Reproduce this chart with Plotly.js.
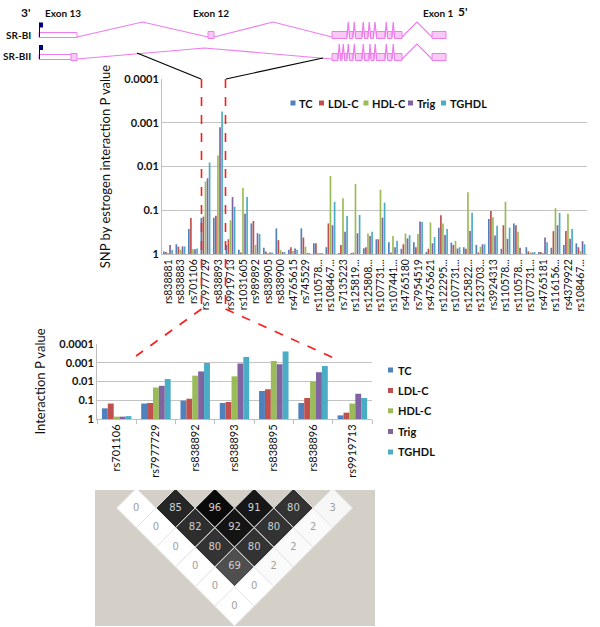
<!DOCTYPE html>
<html><head><meta charset="utf-8">
<script src="https://cdn.plot.ly/plotly-3.0.1.min.js"></script>
<style>html,body{margin:0;padding:0;background:#fff}#chart{width:600px;height:627px}</style>
</head><body><div id="chart"></div>
<script>
// ---------- data ----------
const traitNames = ['TC','LDL-C','HDL-C','Trig','TGHDL'];
const traitColors = ['#4F81BD','#C0504D','#9BBB59','#8064A2','#4BACC6'];

const mainSnps = ['rs838881','rs838883','rs701106','rs7977729','rs838893','rs9919713','rs1031605','rs989892','rs838905','rs838900','rs4765615','rs745529','rs110578...','rs108467...','rs7135223','rs125819...','rs125808...','rs107731...','rs107441...','rs4765180','rs7954519','rs4765621','rs122295...','rs107731...','rs125822...','rs123703...','rs3924313','rs110578...','rs110578...','rs107731...','rs4765181','rs116156...','rs4379922','rs108467...'];
const mainTC    = [0.88,0.6,0.27,0.15,0.148,0.62,0.8,0.2,0.72,0.26,0.8,0.26,0.57,0.7,0.95,0.95,0.74,0.46,0.54,0.76,0.54,0.9,0.25,0.55,0.7,0.62,0.158,0.76,0.2,0.7,0.9,0.72,0.62,0.57];
const mainLDL   = [0.9,0.68,0.15,0.14,0.133,0.46,0.93,0.176,0.88,0.48,0.7,0.42,0.57,0.2,0.62,0.93,0.7,0.46,0.92,0.6,0.7,0.76,0.13,0.62,0.76,0.92,0.104,0.22,0.22,0.87,0.9,0.3,0.3,0.7];
const mainHDL   = [0.95,0.8,0.78,0.022,0.0056,0.17,0.031,0.62,0.95,0.8,0.85,0.68,0.95,0.0164,0.053,0.025,0.34,0.034,0.39,0.34,0.35,0.19,0.2,0.5,0.039,0.68,0.145,0.064,0.31,0.92,0.95,0.09,0.12,0.85];
const mainTrig  = [0.62,0.67,0.78,0.0186,0.00126,0.05,0.12,0.336,0.92,0.9,0.75,0.95,0.96,0.22,0.31,0.336,0.39,0.148,0.7,0.44,0.18,0.57,0.37,0.75,0.3,0.6,0.38,0.45,0.72,0.92,0.42,0.22,0.45,0.51];
const mainTGHDL = [0.81,0.67,0.75,0.0081,0.00055,0.083,0.05,0.35,0.92,0.9,0.8,0.95,0.95,0.064,0.135,0.128,0.31,0.067,0.5,0.37,0.185,0.41,0.27,0.7,0.114,0.6,0.225,0.25,0.97,0.9,0.54,0.115,0.27,0.6];

const zoomSnps  = ['rs701106','rs7977729','rs838892','rs838893','rs838895','rs838896','rs9919713'];
const zoomTC    = [0.27,0.15,0.105,0.14,0.032,0.14,0.64];
const zoomLDL   = [0.15,0.14,0.083,0.124,0.026,0.076,0.46];
const zoomHDL   = [0.75,0.021,0.0049,0.0053,0.00081,0.0098,0.15];
const zoomTrig  = [0.75,0.017,0.0029,0.0011,0.0012,0.0032,0.045];
const zoomTGHDL = [0.7,0.0074,0.00103,0.00049,0.00025,0.0015,0.076];

// LD r2 (x100): row k = SNP pairs (i, i+k)
const ldRows = [[0,85,96,91,80,3],[0,82,92,80,2],[0,80,80,2],[0,69,2],[0,0],[0]];

const pTicks = [1,0.1,0.01,0.001,0.0001];
const pTickText = ['1','0.1','0.01','0.001','0.0001'];

// gene schematic (diagram units)
const exonsBI  = [[39,77],[208,214],[332,347],[349.5,353],[355.5,362],[364.5,368],[370.5,373.5],[376.5,385],[387.5,392],[394.5,402],[432,446]];
const exonsBII = [[39,72],[71,77],[332,338],[340.5,342],[344.5,347],[349.5,353],[355.5,362],[364.5,369],[371,374],[376.5,385],[387.5,392],[394.5,402],[432,446]];

// ---------- helpers ----------
const W = 600, H = 627;
const px = v => v / W, py = v => 1 - v / H;
const mainVals = [mainTC, mainLDL, mainHDL, mainTrig, mainTGHDL];
const zoomVals = [zoomTC, zoomLDL, zoomHDL, zoomTrig, zoomTGHDL];
const mainIdx = mainSnps.map((_, i) => i);
const zoomIdx = zoomSnps.map((_, i) => i);

const traces = [];
mainVals.forEach((vals, k) => {
  traces.push({
    type: 'bar', name: traitNames[k], x: mainIdx, y: vals.map(v => v - 1), base: vals.map(() => 1),
    width: 0.135, offset: -0.42 + k * 0.165, showlegend: false,
    marker: { color: traitColors[k] }, xaxis: 'x', yaxis: 'y', hoverinfo: 'skip'
  });
});
zoomVals.forEach((vals, k) => {
  traces.push({
    type: 'bar', name: traitNames[k], x: zoomIdx, y: vals.map(v => v - 1), base: vals.map(() => 1),
    width: 0.15, offset: -0.375 + k * 0.15, showlegend: false,
    marker: { color: traitColors[k] }, xaxis: 'x2', yaxis: 'y2', hoverinfo: 'skip'
  });
});

// LD diamonds
const ldX = [], ldY = [], ldT = [], ldC = [];
ldRows.forEach((row, r0) => {
  const r = r0 + 1;
  row.forEach((val, i) => {
    const cx = i + r / 2;
    const g = Math.round(255 * (1 - val / 100));
    traces.push({
      type: 'scatter', mode: 'lines', x: [cx - 0.5, cx, cx + 0.5, cx, cx - 0.5], y: [r, r - 1, r, r + 1, r],
      fill: 'toself', fillcolor: `rgb(${g},${g},${g})`, line: { color: '#e6e6e6', width: 1 },
      xaxis: 'x3', yaxis: 'y3', showlegend: false, hoverinfo: 'skip'
    });
    ldX.push(cx); ldY.push(r); ldT.push(String(val)); ldC.push(val > 50 ? '#cfcfcf' : '#a0a0a0');
  });
});
traces.push({ type: 'scatter', mode: 'text', x: ldX, y: ldY, text: ldT,
  textfont: { family: 'DejaVu Sans', size: 10, color: ldC }, xaxis: 'x3', yaxis: 'y3', showlegend: false, hoverinfo: 'skip' });

// gene schematic shapes
const pink = '#EE7CEE', pinkFill = '#F8C9F4';
const shapes = [];
function drawGene(exons, base, half, utrHalf, flagTop) {
  exons.forEach((e, i) => {
    const isUtr = (i === 0);
    const h = isUtr ? utrHalf : half;
    shapes.push({ type: 'rect', xref: 'x4', yref: 'y4', x0: e[0], x1: e[1], y0: base - 2 - h, y1: base - 2 + h,
      line: { color: pink, width: 1 }, fillcolor: isUtr ? '#ffffff' : pinkFill, layer: 'above' });
    if (i < exons.length - 1) {
      const a = e[1], b = exons[i + 1][0];
      if (b > a) {
        const rise = (b - a) > 150 ? 11 : 15;
        shapes.push({ type: 'path', xref: 'x4', yref: 'y4', path: `M${a},${base} L${(a + b) / 2},${base - rise} L${b},${base}`,
          line: { color: pink, width: 1.2 } });
      }
    }
  });
  shapes.push({ type: 'line', xref: 'x4', yref: 'y4', x0: 39.5, x1: 39.5, y0: flagTop, y1: base, line: { color: '#000080', width: 1 } });
  shapes.push({ type: 'rect', xref: 'x4', yref: 'y4', x0: 39.5, x1: 43, y0: flagTop, y1: flagTop + 5, line: { width: 0 }, fillcolor: '#000080' });
}
drawGene(exonsBI, 37, 3.5, 2.5, 22.5);
drawGene(exonsBII, 59, 3.5, 2.5, 45);

// connectors
const blk = { color: '#000', width: 1.2 };
const red = { color: '#ff1a1a', width: 1.6, dash: 'dash' };
shapes.push({ type: 'line', xref: 'paper', yref: 'paper', x0: px(137), y0: py(53), x1: px(201), y1: py(79), line: blk });
shapes.push({ type: 'line', xref: 'paper', yref: 'paper', x0: px(323), y0: py(58), x1: px(226), y1: py(79), line: blk });
shapes.push({ type: 'line', xref: 'paper', yref: 'paper', x0: px(201.5), y0: py(79), x1: px(201.5), y1: py(309), line: red });
shapes.push({ type: 'line', xref: 'paper', yref: 'paper', x0: px(225.5), y0: py(79), x1: px(225.5), y1: py(309), line: red });
shapes.push({ type: 'line', xref: 'paper', yref: 'paper', x0: px(201.5), y0: py(309), x1: px(136), y1: py(356), line: red });
shapes.push({ type: 'line', xref: 'paper', yref: 'paper', x0: px(225.5), y0: py(309), x1: px(336), y1: py(359), line: red });
// LD background
shapes.push({ type: 'rect', xref: 'paper', yref: 'paper', x0: px(95), x1: px(375), y0: py(626), y1: py(490), fillcolor: '#d4d0c8', line: { width: 0 }, layer: 'below' });

const gLab = (t, x, y, anchor, size) => ({ text: t, xref: 'x4', yref: 'y4', x, y, xanchor: anchor || 'center', yanchor: 'middle', showarrow: false,
  font: { family: 'Lato', size: size || 10, color: '#111', weight: 'bold' } });
const annotations = [
  gLab("3'", 26, 12, 'center', 12), gLab('Exon 13', 62.5, 13), gLab('Exon 12', 211, 13), gLab('Exon 1', 438, 13), gLab("5'", 463, 11, 'center', 12),
  gLab('SR-BI', 33, 35, 'right'), gLab('SR-BII', 33, 56, 'right')
];

// legends (key squares + real text), one per chart
const legFont = { family: 'Lato', size: 11, color: '#111', weight: 'bold' };
const leg1X = [293, 321.5, 366, 410.5, 443.5];
const leg2Y = [370, 390.5, 410.8, 431.5, 452];
traitNames.forEach((nm, k) => {
  shapes.push({ type: 'rect', xref: 'paper', yref: 'paper', x0: px(leg1X[k] - 2.5), x1: px(leg1X[k] + 2.5), y0: py(105.5), y1: py(100.5),
    fillcolor: traitColors[k], line: { width: 0 } });
  annotations.push({ text: nm, xref: 'paper', yref: 'paper', x: px(leg1X[k] + 4), y: py(103), xanchor: 'left', yanchor: 'middle',
    showarrow: false, font: legFont });
  shapes.push({ type: 'rect', xref: 'paper', yref: 'paper', x0: px(388), x1: px(393), y0: py(leg2Y[k] + 2.5), y1: py(leg2Y[k] - 2.5),
    fillcolor: traitColors[k], line: { width: 0 } });
  annotations.push({ text: nm, xref: 'paper', yref: 'paper', x: px(396), y: py(leg2Y[k]), xanchor: 'left', yanchor: 'middle',
    showarrow: false, font: legFont });
});

const tickFontY = { family: 'Lato', size: 11, color: '#111', weight: 'bold' };
const tickFontX = { family: 'Lato', size: 10.5, color: '#111' };

const layout = {
  width: W, height: H, margin: { l: 0, r: 0, t: 0, b: 0 }, paper_bgcolor: '#fff', plot_bgcolor: 'rgba(0,0,0,0)',
  barmode: 'overlay', showlegend: false,
  xaxis: { domain: [px(162), px(587)], anchor: 'y', range: [-0.5, mainSnps.length - 0.5], tickmode: 'array', tickvals: mainIdx, ticktext: mainSnps,
    tickangle: -90, tickfont: tickFontX, showgrid: false, zeroline: false, showline: true, linecolor: '#bfbfbf', ticks: '', fixedrange: true, automargin: false },
  yaxis: { domain: [py(254), py(79)], anchor: 'x', type: 'log', range: [0, -4], tickmode: 'array', tickvals: pTicks, ticktext: pTickText,
    tickfont: tickFontY, showgrid: true, gridcolor: '#c4c4c4', showline: true, linecolor: '#bfbfbf', ticks: '', zeroline: false,
    title: { text: 'SNP by estrogen interaction P value', font: { family: 'Lato', size: 13, color: '#111' }, standoff: 10 }, automargin: false },
  xaxis2: { domain: [px(97), px(372)], anchor: 'y2', range: [-0.5, zoomSnps.length - 0.5], tickmode: 'array', tickvals: zoomIdx, ticktext: zoomSnps,
    tickangle: -90, tickfont: { family: 'Lato', size: 11, color: '#111' }, showgrid: false, zeroline: false, showline: true, linecolor: '#bfbfbf', ticks: '',
    minor: { tickmode: 'linear', tick0: -0.5, dtick: 1, ticks: 'outside', ticklen: 4, tickcolor: '#bfbfbf' }, automargin: false },
  yaxis2: { domain: [py(419), py(344)], anchor: 'x2', type: 'log', range: [0, -4], tickmode: 'array', tickvals: pTicks, ticktext: pTickText,
    tickfont: tickFontY, showgrid: true, gridcolor: '#c4c4c4', showline: true, linecolor: '#bfbfbf', ticks: '', zeroline: false,
    title: { text: 'Interaction P value', font: { family: 'Lato', size: 13, color: '#111' }, standoff: 10 }, automargin: false },
  xaxis3: { domain: [px(97), px(372)], anchor: 'y3', range: [-0.5, zoomSnps.length - 0.5], visible: false, fixedrange: true },
  yaxis3: { domain: [py(626), py(490)], anchor: 'x3', range: [7.005, 0.084], visible: false, fixedrange: true },
  xaxis4: { domain: [0, 1], anchor: 'y4', range: [0, 600], visible: false, fixedrange: true },
  yaxis4: { domain: [py(75), 1], anchor: 'x4', range: [75, 0], visible: false, fixedrange: true },
  shapes, annotations
};

Plotly.newPlot('chart', traces, layout, { displayModeBar: false, staticPlot: true });
</script></body></html>
